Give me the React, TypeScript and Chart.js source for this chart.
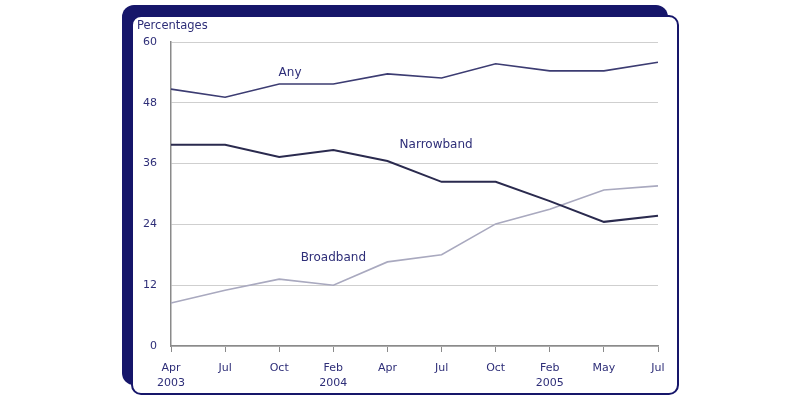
import React, { useEffect, useRef } from "react";
import { Chart, registerables } from "chart.js";

Chart.register(...registerables);

const categories: (string | string[])[] = [
  ["Apr", "2003"], "Jul", "Oct", ["Feb", "2004"], "Apr", "Jul", "Oct", ["Feb", "2005"], "May", "Jul",
];
const anyValues = [50.7, 49.1, 51.7, 51.7, 53.7, 52.9, 55.7, 54.3, 54.3, 56.0];
const narrowbandValues = [39.7, 39.7, 37.3, 38.7, 36.5, 32.4, 32.4, 28.6, 24.5, 25.7];
const broadbandValues = [8.5, 11.0, 13.2, 12.0, 16.6, 18.0, 24.1, 27.0, 30.8, 31.6];
const yTicks = [0, 12, 24, 36, 48, 60];

const seriesLabels = [
  { text: "Any", idx: 2.2, value: 54.0 },
  { text: "Narrowband", idx: 4.9, value: 39.7 },
  { text: "Broadband", idx: 3.0, value: 17.4 },
];

const TEXT = "#2e2e78";
const FONT = "'DejaVu Sans', Verdana, sans-serif";

const annotPlugin = {
  id: "annot",
  afterDraw(chart: any) {
    const ctx = chart.ctx;
    const xs = chart.scales.x;
    const ys = chart.scales.y;
    ctx.save();
    ctx.fillStyle = TEXT;
    ctx.font = `11.5px ${FONT}`;
    ctx.textBaseline = "middle";
    ctx.textAlign = "left";
    ctx.fillText("Percentages", 137, 26);
    ctx.font = `12px ${FONT}`;
    ctx.textAlign = "center";
    for (const l of seriesLabels) {
      ctx.fillText(l.text, xs.getPixelForValue(l.idx), ys.getPixelForValue(l.value));
    }
    ctx.restore();
  },
};

export default function App() {
  const ref = useRef<HTMLCanvasElement>(null);
  useEffect(() => {
    if (!ref.current) return;
    const chart = new Chart(ref.current, {
      type: "line",
      data: {
        labels: categories,
        datasets: [
          { label: "Any", data: anyValues, borderColor: "#3c3c72", borderWidth: 1.6 },
          { label: "Narrowband", data: narrowbandValues, borderColor: "#2a2a4e", borderWidth: 2 },
          { label: "Broadband", data: broadbandValues, borderColor: "#a9a9bf", borderWidth: 1.6 },
        ],
      },
      options: {
        responsive: false,
        animation: false,
        elements: { point: { radius: 0 }, line: { tension: 0 } },
        layout: { padding: { left: 141, right: 142, top: 42, bottom: 0 } },
        plugins: { legend: { display: false }, tooltip: { enabled: false } },
        scales: {
          x: {
            offset: false,
            grid: { drawOnChartArea: false, drawTicks: true, tickLength: 6, tickColor: "#8a8a8a" },
            border: { color: "#8a8a8a", width: 1.5 },
            ticks: {
              color: TEXT,
              font: { family: FONT, size: 11, lineHeight: 1.4 },
              padding: 8,
              maxRotation: 0,
              autoSkip: false,
            },
            afterFit(scale: any) { scale.height = 54; },
          },
          y: {
            min: 0,
            max: 60,
            afterBuildTicks(scale: any) { scale.ticks = yTicks.map((v) => ({ value: v })); },
            grid: { drawTicks: false, color: "#cfcfcf", lineWidth: 1 },
            border: { color: "#8a8a8a", width: 1.5 },
            ticks: { color: TEXT, font: { family: FONT, size: 11 }, padding: 14 },
            afterFit(scale: any) { scale.width = 30; },
          },
        },
      },
      plugins: [annotPlugin],
    });
    return () => chart.destroy();
  }, []);

  return (
    <div style={{ position: "fixed", left: 0, top: 0, width: 800, height: 400, background: "#fff" }}>
      <div style={{ position: "absolute", left: 122, top: 5, width: 546, height: 380, background: "#16166a", borderRadius: 12 }} />
      <div style={{ position: "absolute", left: 131, top: 15, width: 544, height: 376, background: "#fff", border: "2px solid #16166a", borderRadius: 10 }} />
      <canvas ref={ref} width={800} height={400} style={{ position: "absolute", left: 0, top: 0, width: 800, height: 400 }} />
    </div>
  );
}
